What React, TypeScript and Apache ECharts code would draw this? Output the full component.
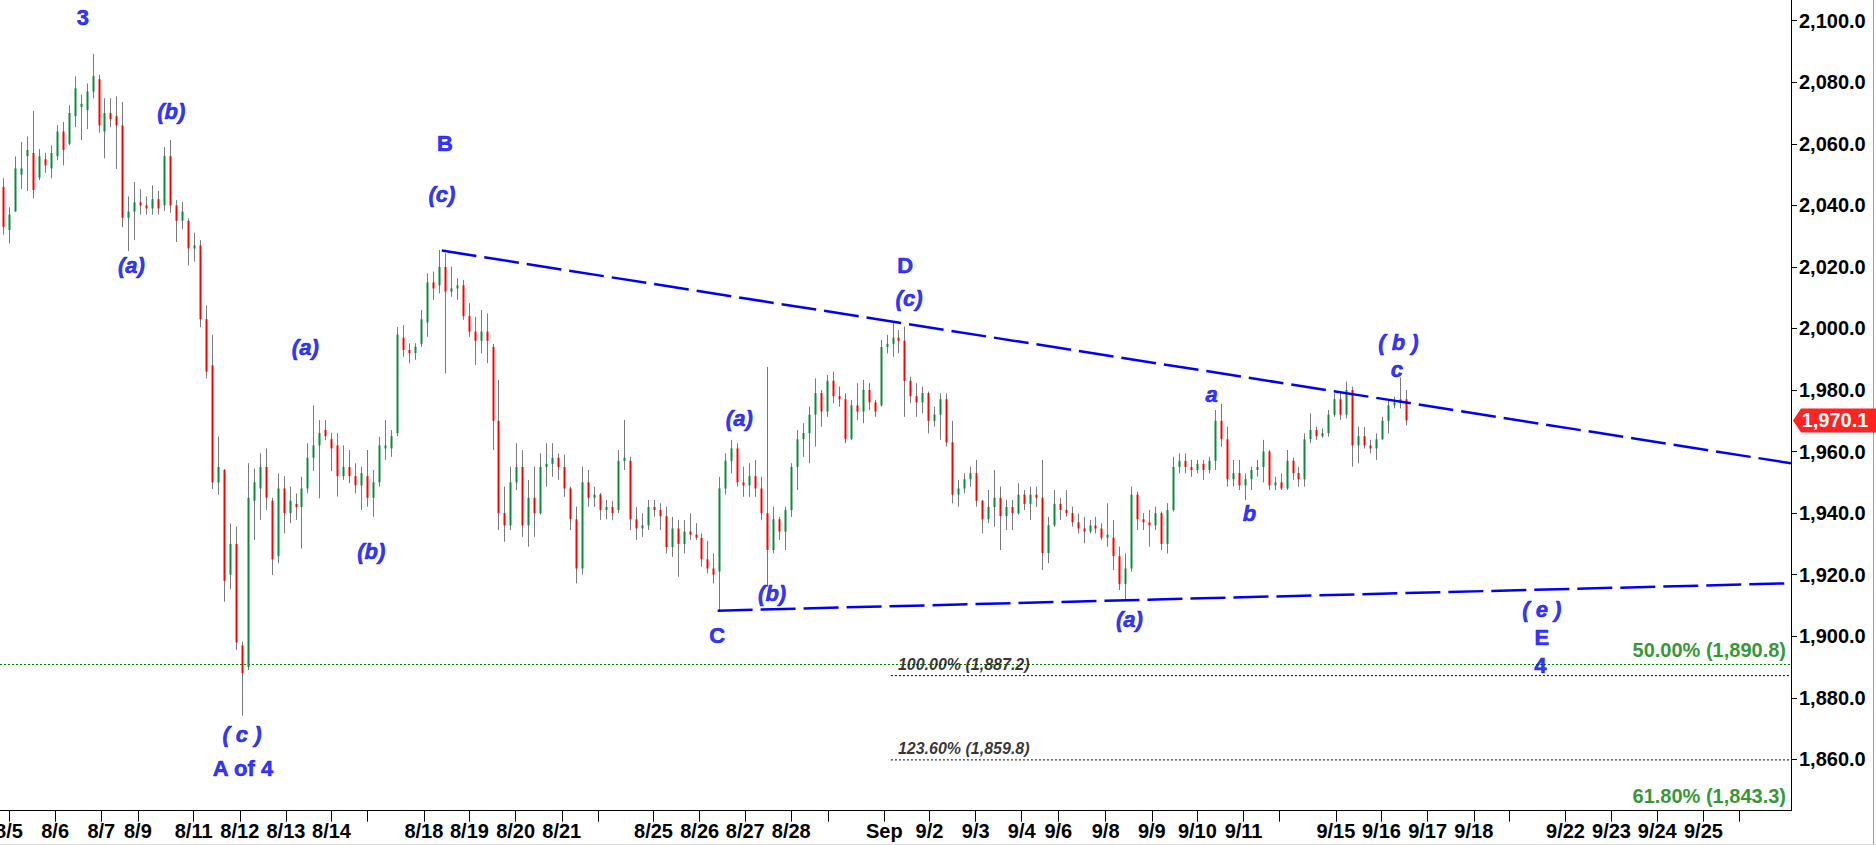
import React, { useEffect, useRef } from "react";
import * as echarts from "echarts";

// ---- data ----
const HOURS_PER_BAR = 3;
const X_MAX_HOURS = 900;
const Y_MIN = 1843.3;
const Y_MAX = 2106.73;

// [open, close, low, high] – 3-hour bars
const bars: [number, number, number, number][] = [
  [2046, 2033, 2030.5, 2048.8], [2032, 2037, 2027.6, 2039.4], [2038, 2052, 2038, 2055.9], [2050, 2052, 2045.3, 2060.6],
  [2056, 2058, 2044.7, 2062.4], [2057, 2045, 2042.3, 2070.7], [2049, 2056, 2048.2, 2058.3], [2055, 2053, 2050.6, 2057.1],
  [2052, 2057, 2048.8, 2059.5], [2056, 2064, 2054.7, 2066], [2064, 2058, 2053, 2067.1], [2060, 2070, 2059.5, 2072.5],
  [2069, 2078, 2065.4, 2081.9], [2072, 2073, 2061.2, 2076], [2071, 2077, 2064.8, 2079.6], [2077, 2082, 2074.8, 2089.2],
  [2081, 2066, 2063.6, 2082.5], [2064, 2070, 2055.3, 2074.8], [2070, 2068, 2065.4, 2074.8], [2069, 2066, 2051.8, 2075.4],
  [2066, 2036, 2032.9, 2073.6], [2036, 2038, 2025.2, 2042.9], [2038, 2041, 2028.7, 2047.6], [2041, 2040, 2037, 2045.3],
  [2040, 2039, 2037, 2042.9], [2039, 2042, 2037, 2046.5], [2042, 2039, 2037, 2044.7], [2040, 2056, 2038.2, 2058.9],
  [2056, 2040, 2037.6, 2061.2], [2040, 2035, 2028.1, 2041.7], [2035, 2038, 2032.3, 2041.1], [2035, 2026, 2020.5, 2035.8],
  [2026, 2027, 2021.7, 2031.1], [2027, 2003, 2000.4, 2028.7], [2003, 1986, 1983.8, 2007.5], [1988, 1950, 1947.8, 1998],
  [1950, 1955, 1946, 1964.9], [1954, 1918, 1911.2, 1954.3], [1920, 1930, 1915.3, 1936.6], [1930, 1898, 1895.5, 1935.6],
  [1897, 1888, 1874.2, 1898.2], [1890, 1945, 1889, 1956.2], [1944, 1950, 1931.3, 1954.5], [1948, 1955, 1937.8, 1959.4],
  [1955, 1945, 1941, 1961], [1944, 1925, 1919.9, 1945], [1926, 1948, 1923.7, 1952.9], [1948, 1940, 1933.4, 1952],
  [1940, 1944, 1936.7, 1948.6], [1943, 1942, 1937.8, 1946.4], [1942, 1948, 1928.5, 1951.8], [1948, 1958, 1946.4, 1962.7],
  [1958, 1962, 1953.7, 1975], [1962, 1966, 1944.8, 1970.2], [1967, 1965, 1963.7, 1970.2], [1964, 1961, 1953.7, 1966.1],
  [1962, 1952, 1945.4, 1966], [1952, 1955, 1950.8, 1962], [1955, 1952, 1949.7, 1960.5], [1952, 1949, 1946.4, 1956.2],
  [1949, 1953, 1941, 1955.1], [1952, 1945, 1942.1, 1960.5], [1945, 1950, 1938.8, 1954], [1950, 1962, 1948.6, 1964.8],
  [1961, 1962, 1957.3, 1970.2], [1961, 1965, 1958.3, 1967], [1966, 1998, 1965, 2000.5], [1997, 1993, 1990.8, 2001.1],
  [1993, 1992, 1988.7, 1995.2], [1992, 1994, 1989.8, 1995.2], [1995, 2003, 1994, 2006], [2002, 2015, 1997.3, 2017.9],
  [2015, 2013, 2009.3, 2018.5], [2014, 2020, 2011.4, 2025.5], [2020, 2012, 1985.4, 2024.4], [2012, 2013, 2010.3, 2020.1],
  [2013, 2014, 2009.3, 2016.3], [2014, 2004, 2002.8, 2015.8], [2004, 1999, 1997.3, 2008.2], [1999, 1996, 1988.1, 2003.8],
  [1996, 1999, 1991.9, 2006], [1999, 1996, 1988.7, 2004.9], [1994, 1970, 1960.5, 1995], [1970, 1940, 1934.5, 1983.3],
  [1940, 1936, 1930.7, 1948.6], [1936, 1950, 1934.5, 1955.1], [1950, 1955, 1947.5, 1962.7], [1955, 1936, 1932.3, 1960.5],
  [1936, 1945, 1929.1, 1950.8], [1945, 1940, 1932.3, 1955.1], [1940, 1955, 1939.5, 1959.4], [1955, 1956, 1948.6, 1962.7],
  [1956, 1958, 1951.8, 1962.7], [1958, 1955, 1950.8, 1959.4], [1955, 1948, 1945.3, 1959], [1948, 1938, 1934.5, 1948.6],
  [1938, 1922, 1917.2, 1942.1], [1922, 1950, 1920, 1955.1], [1950, 1945, 1942.1, 1954], [1945, 1946, 1942, 1948.6],
  [1946, 1941, 1937.8, 1946.5], [1941, 1942, 1938, 1944.3], [1942, 1940, 1937.8, 1944], [1941, 1957, 1940, 1960.5],
  [1957, 1958, 1954, 1970.3], [1957, 1938, 1934.5, 1958.3], [1938, 1935, 1931.3, 1942], [1935, 1936, 1932.3, 1939.9],
  [1936, 1942, 1934.5, 1944.3], [1942, 1941, 1938.8, 1944.3], [1941, 1939, 1934.5, 1943.2], [1939, 1929, 1926.9, 1942.1],
  [1929, 1935, 1925.8, 1938.8], [1935, 1930, 1919.3, 1937.8], [1930, 1934, 1926.9, 1937.8], [1934, 1933, 1931.3, 1939.9],
  [1933, 1932, 1931.3, 1936.7], [1932, 1925, 1922.6, 1933.4], [1925, 1922, 1920.4, 1931], [1922, 1920, 1917.2, 1926.9],
  [1921, 1948, 1908.5, 1951.8], [1948, 1957, 1946, 1959.4], [1957, 1961, 1952.9, 1963.8], [1961, 1950, 1948.6, 1962.7],
  [1950, 1949, 1945.3, 1955.1], [1949, 1952, 1945.3, 1956.2], [1952, 1948, 1945.3, 1957.3], [1948, 1940, 1937.8, 1951.8],
  [1940, 1928, 1916.1, 1987.5], [1928, 1938, 1926.9, 1942.1], [1938, 1934, 1931.3, 1938.8], [1934, 1941, 1928, 1942.1],
  [1941, 1955, 1938.8, 1956.2], [1955, 1964, 1947.5, 1967], [1964, 1966, 1958.3, 1969.2], [1966, 1972, 1956.2, 1974.6],
  [1972, 1979, 1961.6, 1983.8], [1979, 1973, 1968.1, 1980], [1973, 1983, 1971.3, 1984.9], [1983, 1978, 1975.7, 1986],
  [1978, 1977, 1974.6, 1981.1], [1977, 1964, 1962.7, 1978.9], [1964, 1975, 1963.8, 1976.8], [1975, 1973, 1970.2, 1982.2],
  [1973, 1980, 1969.2, 1983.3], [1980, 1976, 1973.5, 1982.2], [1976, 1973, 1971.3, 1976.8], [1975, 1994, 1974.6, 1996.3],
  [1994, 1995, 1991.9, 1997.9], [1995, 1997, 1990.8, 2001.7], [1997, 1996, 1991.9, 1999.5], [1996, 1983, 1971.3, 2000.6],
  [1983, 1978, 1975.7, 1984.3], [1978, 1976, 1971.3, 1982.2], [1976, 1979, 1972.4, 1981.1], [1979, 1970, 1965.9, 1979.5],
  [1970, 1972, 1968.1, 1974.6], [1972, 1977, 1963.8, 1978.9], [1977, 1963, 1961.6, 1978.9], [1963, 1946, 1943.2, 1970],
  [1946, 1948, 1942.1, 1950.8], [1948, 1951, 1946.4, 1952.9], [1951, 1953, 1948.6, 1955.1], [1953, 1944, 1942.1, 1957.3],
  [1944, 1938, 1933.4, 1944.3], [1938, 1942, 1936.7, 1947.5], [1942, 1945, 1935.6, 1954], [1945, 1939, 1928, 1948.6],
  [1939, 1942, 1934.5, 1944.3], [1942, 1940, 1934.5, 1944.3], [1940, 1946, 1939.5, 1949.7], [1946, 1943, 1941, 1947.5],
  [1943, 1946, 1937.8, 1948.6], [1946, 1945, 1942, 1948.6], [1945, 1927, 1921.5, 1957.3], [1927, 1936, 1923.7, 1938.8],
  [1936, 1943, 1935.5, 1947.5], [1943, 1941, 1937.8, 1945], [1941, 1940, 1938.8, 1947.5], [1940, 1937, 1935.6, 1942.1],
  [1937, 1935, 1933.4, 1939.9], [1935, 1934, 1930.2, 1938.8], [1934, 1936, 1933.4, 1937.8], [1936, 1935, 1933.4, 1938.8],
  [1935, 1932, 1931.3, 1936.7], [1932, 1933, 1929.1, 1943.2], [1932, 1926, 1921.5, 1937.8], [1926, 1917, 1915, 1929.1],
  [1917, 1922, 1911.8, 1926.9], [1922, 1946, 1921, 1948.6], [1946, 1938, 1934.5, 1947], [1938, 1937, 1934.5, 1940],
  [1937, 1936, 1929.1, 1941], [1936, 1940, 1934.5, 1942.1], [1940, 1930, 1928, 1940.5], [1930, 1941, 1926.9, 1943.2],
  [1941, 1955, 1940.5, 1958.3], [1955, 1957, 1952.9, 1959.4], [1957, 1955, 1952.9, 1959.4], [1955, 1954, 1951.8, 1957.3],
  [1954, 1956, 1952.9, 1957.3], [1956, 1954, 1950.8, 1957.3], [1954, 1957, 1952.9, 1958.3], [1957, 1970, 1954, 1973.5],
  [1970, 1964, 1961.6, 1975.5], [1964, 1951, 1948.6, 1968.1], [1951, 1953, 1948.6, 1957.3], [1953, 1949, 1947.5, 1957.3],
  [1949, 1951, 1944.2, 1952.9], [1951, 1954, 1947.5, 1955.1], [1954, 1955, 1951.8, 1957.3], [1955, 1960, 1950, 1963.8],
  [1960, 1949, 1947.5, 1960.5], [1949, 1950, 1947.5, 1951.8], [1950, 1948, 1947.5, 1952.9], [1948, 1957, 1947.5, 1960.5],
  [1957, 1953, 1950.8, 1958], [1953, 1951, 1948.6, 1955], [1951, 1964, 1948.6, 1965.9], [1964, 1967, 1962.7, 1972.4],
  [1967, 1965, 1963.8, 1968.1], [1965, 1966, 1964.5, 1967.5], [1966, 1972, 1964.8, 1973.5], [1972, 1977, 1971.3, 1978.9],
  [1977, 1972, 1970.3, 1979], [1972, 1980, 1970.8, 1982.7], [1980, 1962, 1955.1, 1981.1], [1962, 1965, 1956.2, 1968.1],
  [1965, 1962, 1961, 1968], [1962, 1961, 1959.4, 1963.8], [1961, 1964, 1957.3, 1965.9], [1964, 1970, 1963.8, 1971.3],
  [1970, 1975, 1965.9, 1976.8], [1975, 1976, 1974, 1977.8], [1976, 1977, 1974, 1984.1], [1977, 1970.1, 1968.5, 1980],
];

// date ticks, in hours from the chart's left edge ('' = tick without label)
const dateTicks: [number, string][] = [
  [4.5, "8/5"], [27.7, "8/6"], [50.9, "8/7"], [69.3, "8/9"], [97.3, "8/11"], [120.5, "8/12"], [143.7, "8/13"],
  [166.6, "8/14"], [184.4, ""], [213.0, "8/18"], [235.9, "8/19"], [259.1, "8/20"], [282.3, "8/21"], [300.4, ""],
  [328.4, "8/25"], [351.6, "8/26"], [374.5, "8/27"], [397.6, "8/28"], [416.0, ""], [444.4, "Sep"], [467.1, "9/2"],
  [490.3, "9/3"], [513.4, "9/4"], [531.8, "9/6"], [555.6, "9/8"], [578.8, "9/9"], [601.7, "9/10"], [624.9, "9/11"],
  [643.0, ""], [671.3, "9/15"], [694.2, "9/16"], [717.4, "9/17"], [740.6, "9/18"], [758.6, ""], [786.7, "9/22"],
  [809.8, "9/23"], [832.8, "9/24"], [856.0, "9/25"], [874.0, ""],
];

const priceTicks = [1860, 1880, 1900, 1920, 1940, 1960, 1980, 2000, 2020, 2040, 2060, 2080, 2100];

// triangle trend lines [hour, price]
const upperTrend: [number, number][] = [[222, 2025.3], [900, 1956.2]];
const lowerTrend: [number, number][] = [[360.6, 1908.3], [900, 1917.2]];

// fibonacci levels
const fibStartHour = 447.7;
const fibBlackLevels = [1887.2, 1859.8];
const fibBlackTexts = ["100.00% (1,887.2)", "123.60% (1,859.8)"];
const fibGreenLevels = [1890.8, 1843.3];
const fibGreenTexts = ["50.00% (1,890.8)", "61.80% (1,843.3)"];

// wave labels [hour, price, text]
const waveUpright: [number, number, string][] = [
  [41.7, 2101.1, "3"], [223.6, 2060.2, "B"], [122.1, 1857.1, "A of 4"], [454.9, 2020.4, "D"],
  [360.4, 1900.1, "C"], [774.8, 1899.6, "E"], [774.1, 1890.6, "4"],
];
const waveItalic: [number, number, string][] = [
  [86.1, 2070.4, "(b)"], [66.0, 2020.4, "(a)"], [222.1, 2043.6, "(c)"], [153.4, 1993.9, "(a)"],
  [186.6, 1927.5, "(b)"], [121.6, 1868.1, "( c )"], [456.8, 2009.6, "(c)"], [371.5, 1970.9, "(a)"],
  [388.0, 1913.9, "(b)"], [567.5, 1905.5, "(a)"], [608.9, 1978.7, "a"], [627.9, 1939.9, "b"],
  [702.7, 1995.5, "( b )"], [702.0, 1986.8, "c"], [774.8, 1908.7, "( e )"],
];

const FONT = "'Liberation Sans', Arial, Helvetica, sans-serif";
const BLUE = "#0000f4";

export default function App() {
  const ref = useRef<HTMLDivElement>(null);

  useEffect(() => {
    if (!ref.current) return;
    const chart = echarts.init(ref.current, null, { renderer: "svg" });

    const candleData = bars.map((b, i) => [i * HOURS_PER_BAR + HOURS_PER_BAR / 2, b[0], b[1], b[2], b[3]]);
    const fmtPrice = (v: number) =>
      v.toLocaleString("en-US", { minimumFractionDigits: 1, maximumFractionDigits: 1 });

    const waveLabel = (italic: boolean) => (d: [number, number, string]) => ({
      value: [d[0], d[1]],
      label: {
        show: true,
        position: "inside",
        formatter: d[2],
        color: BLUE,
        fontFamily: FONT,
        fontSize: 22,
        fontWeight: "bold",
        fontStyle: italic ? "italic" : "normal",
        textBorderColor: BLUE,
        textBorderWidth: 0.6,
      },
    });

    chart.setOption({
      animation: false,
      backgroundColor: "#ffffff",
      grid: {
        left: 0,
        right: 85,
        top: 0,
        bottom: 34.3,
        containLabel: false,
        outerBoundsMode: "none",
      },
      xAxis: {
        type: "value",
        min: 0,
        max: X_MAX_HOURS,
        splitLine: { show: false },
        axisLine: { show: true, onZero: false, lineStyle: { color: "#000", width: 1 } },
        axisTick: {
          show: true,
          length: 11,
          lineStyle: { color: "#000", width: 1 },
          customValues: dateTicks.map((d) => d[0]),
        },
        axisLabel: {
          show: true,
          customValues: dateTicks.filter((d) => d[1]).map((d) => d[0]),
          formatter: (v: number) => {
            const t = dateTicks.find((d) => Math.abs(d[0] - v) < 0.05);
            return t ? t[1] : "";
          },
          color: "#000",
          fontFamily: FONT,
          fontSize: 20,
          fontWeight: "bold",
          margin: 10,
          hideOverlap: false,
        },
      },
      yAxis: {
        type: "value",
        position: "right",
        min: Y_MIN,
        max: Y_MAX,
        splitLine: { show: false },
        axisLine: { show: true, onZero: false, lineStyle: { color: "#000", width: 1 } },
        axisTick: { show: true, length: 6, lineStyle: { color: "#000" }, customValues: priceTicks },
        axisLabel: {
          customValues: priceTicks,
          formatter: (v: number) => fmtPrice(v),
          color: "#000",
          fontFamily: FONT,
          fontSize: 20,
          fontWeight: "bold",
          margin: 8,
        },
      },
      series: [
        {
          type: "custom",
          name: "price",
          data: candleData,
          encode: { x: 0, y: [1, 2, 3, 4] },
          clip: true,
          z: 2,
          renderItem: (params: any, api: any) => {
            const t = api.value(0);
            const o = api.value(1);
            const c = api.value(2);
            const l = api.value(3);
            const h = api.value(4);
            const ph = api.coord([t, h]);
            const pl = api.coord([t, l]);
            const po = api.coord([t, o]);
            const pc = api.coord([t, c]);
            const x = Math.round(ph[0]) + 0.5;
            const top = Math.min(po[1], pc[1]);
            const hgt = Math.max(1, Math.abs(po[1] - pc[1]));
            return {
              type: "group",
              children: [
                {
                  type: "line",
                  shape: { x1: x, y1: ph[1], x2: x, y2: pl[1] },
                  style: { stroke: "#7a7a7a", lineWidth: 1 },
                },
                {
                  type: "rect",
                  shape: { x: x - 1, y: top, width: 2, height: hgt },
                  style: { fill: c >= o ? "#0a8a3a" : "#ff0000" },
                },
              ],
            };
          },
        },
        {
          type: "line",
          data: [[0, fibGreenLevels[0]], [X_MAX_HOURS, fibGreenLevels[0]]],
          symbol: "none",
          silent: true,
          lineStyle: { color: "#008000", width: 1, type: [2, 2] },
          z: 1,
        },
        ...fibBlackLevels.map((lv) => ({
          type: "line",
          data: [[fibStartHour, lv], [X_MAX_HOURS, lv]],
          symbol: "none",
          silent: true,
          lineStyle: { color: "#000000", width: 1, type: [2, 2] },
          z: 1,
        })),
        {
          type: "line",
          data: upperTrend,
          symbol: "none",
          silent: true,
          lineStyle: { color: BLUE, width: 2.5, type: [35, 8] },
          z: 3,
        },
        {
          type: "line",
          data: lowerTrend,
          symbol: "none",
          silent: true,
          lineStyle: { color: BLUE, width: 2.5, type: [35, 8] },
          z: 3,
        },
        {
          type: "scatter",
          symbolSize: 0,
          silent: true,
          z: 4,
          data: [
            ...fibBlackLevels.map((lv, i) => ({
              value: [fibStartHour, lv],
              label: {
                show: true,
                position: "right",
                distance: 5,
                offset: [2, -11],
                formatter: fibBlackTexts[i],
                color: "#000",
                fontFamily: FONT,
                fontSize: 16,
                fontWeight: "bold",
                fontStyle: "italic",
              },
            })),
            ...fibGreenLevels.map((lv, i) => ({
              value: [X_MAX_HOURS, lv],
              label: {
                show: true,
                position: "left",
                distance: 5,
                offset: [0, -14.5],
                formatter: fibGreenTexts[i],
                color: "#007a00",
                fontFamily: FONT,
                fontSize: 20,
                fontWeight: "bold",
              },
            })),
          ],
        },
        {
          type: "scatter",
          symbolSize: 0,
          silent: true,
          z: 5,
          data: [...waveUpright.map(waveLabel(false)), ...waveItalic.map(waveLabel(true))],
        },
      ],
    });

    const last = bars[bars.length - 1][1];
    const yPix = chart.convertToPixel({ yAxisIndex: 0 }, last) as number;
    const axisX = 1876 - 85;
    chart.setOption({
      graphic: [
        {
          type: "polygon",
          shape: {
            points: [
              [axisX + 2, yPix],
              [axisX + 10, yPix - 12],
              [1876, yPix - 12],
              [1876, yPix + 12],
              [axisX + 10, yPix + 12],
            ],
          },
          style: { fill: "#ff2323" },
          z: 10,
        },
        {
          type: "text",
          x: 1835,
          y: yPix,
          style: {
            text: fmtPrice(last),
            fill: "#ffffff",
            font: `bold 20px ${FONT}`,
            align: "center",
            verticalAlign: "middle",
          },
          z: 11,
        },
        {
          type: "line",
          shape: { x1: 1873.5, y1: 0, x2: 1873.5, y2: 845 },
          style: { stroke: "#a0a0a0", lineWidth: 1 },
          z: 9,
        },
        {
          type: "line",
          shape: { x1: 0, y1: 844.5, x2: 1876, y2: 844.5 },
          style: { stroke: "#dcdcdc", lineWidth: 1 },
          z: 9,
        },
      ],
    });

    return () => chart.dispose();
  }, []);

  return (
    <div
      ref={ref}
      style={{ position: "fixed", left: 0, top: 0, width: 1876, height: 845, background: "#fff" }}
    />
  );
}
